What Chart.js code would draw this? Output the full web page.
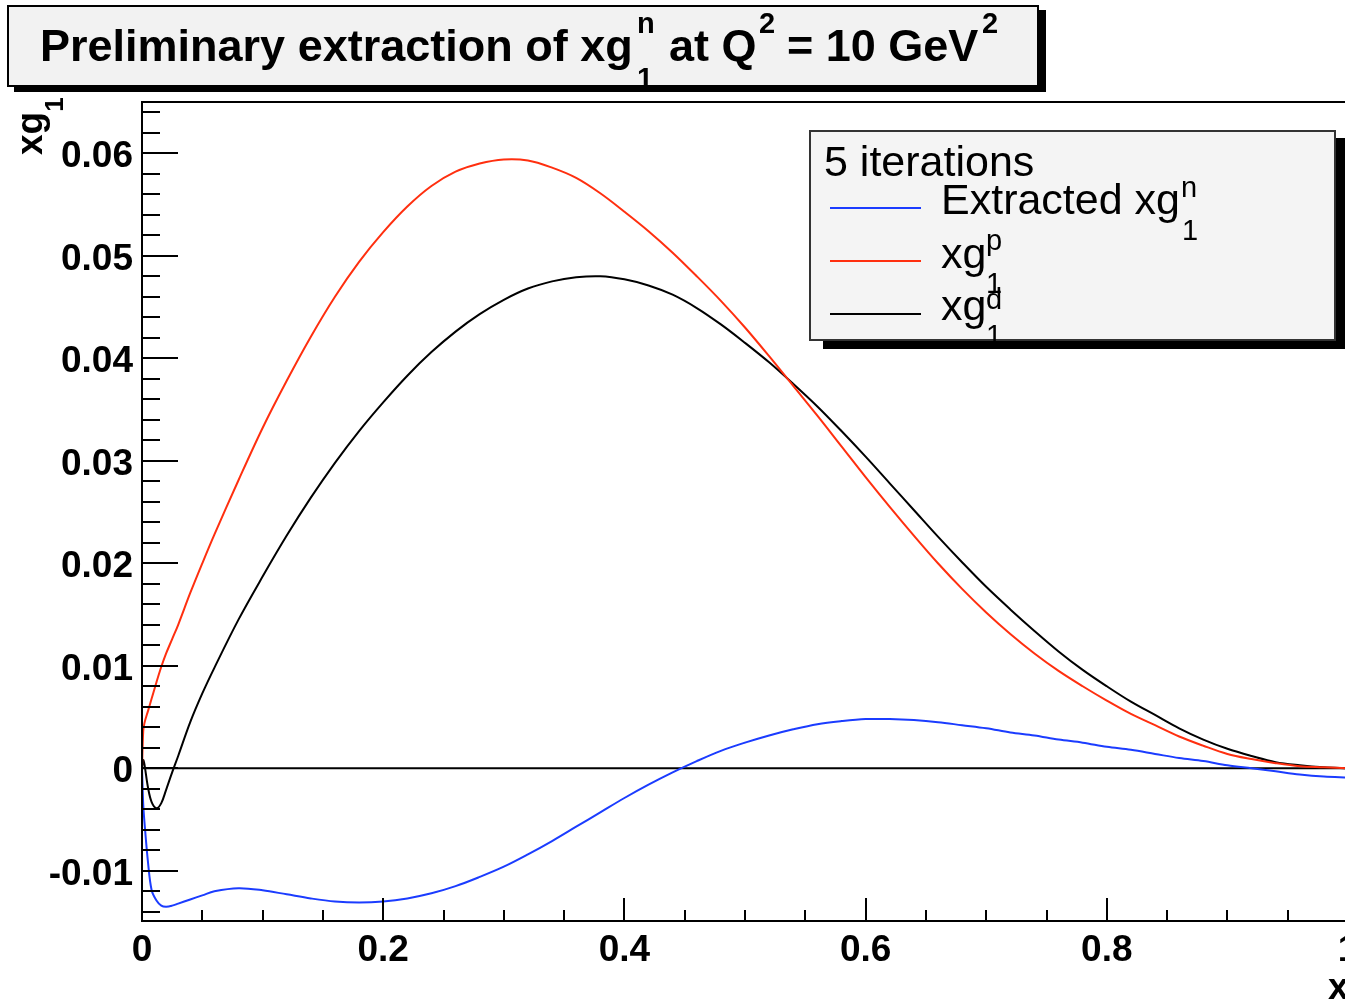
<!DOCTYPE html>
<html lang="en">
<head>
  <meta charset="UTF-8">
  <title>Preliminary extraction of xg1n at Q2 = 10 GeV2</title>
  <script src="https://cdn.jsdelivr.net/npm/chart.js"></script>
  <style>
    body {
      margin: 0;
      background: #fff;
      overflow: hidden;
      font-family: 'Liberation Sans', Arial, Helvetica, sans-serif;
    }
    #wrap {
      position: relative;
      width: 1345px;
      height: 1001px;
      overflow: hidden;
    }
    #plot {
      position: absolute;
      left: 0;
      top: 0;
    }
    .box {
      position: absolute;
      box-sizing: border-box;
      border: 2px solid #000;
    }
    .t {
      position: absolute;
      white-space: nowrap;
      line-height: 0;
      color: #000;
    }
    .key {
      position: absolute;
      height: 2px;
    }
    #ytitle {
      position: absolute;
      white-space: nowrap;
      line-height: 0;
      font-weight: bold;
      font-size: 37px;
      transform: rotate(-90deg);
      transform-origin: 0 0;
    }
    #ytitle span {
      position: relative;
      top: 21px;
      font-size: 26px;
    }
  </style>
</head>
<body>
  <div id="wrap">
    <!-- canvas is a bit wider than the window: the x = 1 edge falls just outside, as in the original -->
    <canvas id="plot" width="1367" height="1001"></canvas>

    <div class="box" style="left:7px; top:5px; width:1032px; height:82px; background:#f2f2f2; box-shadow:7px 5px 0 #000;"></div>
    <div class="box" style="left:809px; top:130px; width:527px; height:211px; background:#f4f4f4; border-color:#333; box-shadow:14px 8px 0 #000;"></div>

    <div class="key" style="left:830px; top:207px; width:91px; background:#1b3cff;"></div>
    <div class="key" style="left:830px; top:260px; width:91px; background:#ff2f0f;"></div>
    <div class="key" style="left:830px; top:313px; width:91px; background:#000;"></div>

    <div id="ytitle" style="left:30px; top:155px;">xg<span>1</span></div>
  </div>

  <script>
    // curves, on one common x grid
    const xs = [0, 0.001, 0.002, 0.005, 0.008, 0.012, 0.016, 0.02, 0.025, 0.03,
      0.04, 0.05, 0.06, 0.08,
      0.10, 0.12, 0.14, 0.16, 0.18, 0.20, 0.22, 0.24, 0.26, 0.28,
      0.30, 0.32, 0.34, 0.36, 0.38, 0.40, 0.42, 0.44, 0.46, 0.48,
      0.50, 0.52, 0.54, 0.56, 0.58, 0.60, 0.62, 0.64, 0.66, 0.68,
      0.70, 0.72, 0.74, 0.76, 0.78, 0.80, 0.82, 0.84, 0.86, 0.88,
      0.90, 0.92, 0.94, 0.96, 0.98, 1.0];

    const xg1n = [0, -0.0035, -0.0052, -0.0092, -0.0119, -0.0129, -0.0134, -0.0135, -0.0134, -0.0132,
      -0.0128, -0.0124, -0.0120, -0.0117,
      -0.0119, -0.0123, -0.0127, -0.0130, -0.0131, -0.0130, -0.0127, -0.0122, -0.0115, -0.0106,
      -0.0096, -0.0084, -0.0071, -0.0057, -0.0043, -0.0029, -0.0016, -0.0004, 0.0007, 0.0017,
      0.0025, 0.0032, 0.0038, 0.0043, 0.0046, 0.0048, 0.0048, 0.0047, 0.0045, 0.0042,
      0.0039, 0.0035, 0.0032, 0.0028, 0.0025, 0.0021, 0.0018, 0.0014, 0.0010, 0.0007,
      0.0003, 0.0000, -0.0003, -0.0006, -0.0008, -0.0009];

    const xg1p = [0, 0.0036, 0.0044, 0.0056, 0.0068, 0.0084, 0.0099, 0.0112, 0.0126, 0.0140,
      0.0171, 0.0200, 0.0228, 0.0281,
      0.0332, 0.0378, 0.0421, 0.0460, 0.0494, 0.0523, 0.0548, 0.0568, 0.0582, 0.0590,
      0.0594, 0.0593, 0.0586, 0.0576, 0.0561, 0.0543, 0.0524, 0.0503, 0.0480, 0.0456,
      0.0430, 0.0402, 0.0373, 0.0344, 0.0314, 0.0284, 0.0255, 0.0227, 0.0200, 0.0175,
      0.0152, 0.0131, 0.0112, 0.0095, 0.0080, 0.0066, 0.0053, 0.0042, 0.0031, 0.0022,
      0.0014, 0.0009, 0.0005, 0.0002, 0.0001, 0];

    const xg1d = [0, 0.0008, 0.0004, -0.0019, -0.0033, -0.0039, -0.0034, -0.0021, -0.0004, 0.0012,
      0.0045, 0.0073, 0.0098, 0.0145,
      0.0187, 0.0227, 0.0264, 0.0298, 0.0329, 0.0357, 0.0383, 0.0406, 0.0426, 0.0443,
      0.0457, 0.0468, 0.0475, 0.0479, 0.0480, 0.0477, 0.0471, 0.0462, 0.0449, 0.0433,
      0.0415, 0.0396, 0.0375, 0.0353, 0.0329, 0.0304, 0.0278, 0.0252, 0.0226, 0.0201,
      0.0177, 0.0155, 0.0134, 0.0114, 0.0096, 0.0080, 0.0065, 0.0052, 0.0039, 0.0028,
      0.0019, 0.0012, 0.0006, 0.0003, 0.0001, 0];

    const xLabels = [0, 0.2, 0.4, 0.6, 0.8, 1];
    const yLabels = [-0.01, 0, 0.01, 0.02, 0.03, 0.04, 0.05, 0.06];

    const isOn = (v, list) => list.some(l => Math.abs(v - l) < 1e-7);
    const fmt = v => Math.abs(v) < 1e-9 ? "0" : String(Math.round(v * 100) / 100);
    const pts = ys => xs.map((x, i) => ({ x: x, y: ys[i] }));

    // title and legend text, placed by baseline (line-height 0 -> baseline = top + 0.3465 em)
    const wrap = document.getElementById("wrap");
    function put(text, x, base, size, bold) {
      const d = document.createElement("div");
      d.className = "t";
      d.textContent = text;
      d.style.left = x + "px";
      d.style.top = (base - 0.3465 * size) + "px";
      d.style.fontSize = size + "px";
      d.style.fontWeight = bold ? "bold" : "normal";
      wrap.appendChild(d);
    }

    put("Preliminary extraction of xg", 40, 62, 45, true);
    put("n", 637, 33, 29, true);
    put("1", 637, 88, 29, true);
    put("at Q", 669, 62, 45, true);
    put("2", 759, 33, 29, true);
    put("= 10 GeV", 787, 62, 45, true);
    put("2", 982, 33, 29, true);

    put("5 iterations", 824, 176, 43, false);
    put("Extracted xg", 941, 214, 43, false);
    put("n", 1181, 197, 29, false);
    put("1", 1182, 240, 29, false);
    put("xg", 941, 268, 43, false);
    put("p", 986, 250, 29, false);
    put("1", 986, 293, 29, false);
    put("xg", 941, 320, 43, false);
    put("d", 986, 309, 29, false);
    put("1", 986, 345, 29, false);

    put("x", 1328, 1000, 37, true);

    // ROOT style frame: inward ticks, zero line
    const frame = {
      id: "frame",
      beforeDatasetsDraw(chart) {
        const { ctx, chartArea: a, scales: { y } } = chart;
        const y0 = y.getPixelForValue(0);
        ctx.save();
        ctx.strokeStyle = "#000";
        ctx.lineWidth = 2;
        ctx.beginPath();
        ctx.moveTo(a.left, y0);
        ctx.lineTo(a.right, y0);
        ctx.stroke();
        ctx.restore();
      },
      afterDatasetsDraw(chart) {
        const { ctx, chartArea: a, scales: { x, y } } = chart;
        ctx.save();
        ctx.strokeStyle = "#000";
        ctx.lineWidth = 2;
        ctx.strokeRect(a.left, a.top, a.right - a.left, a.bottom - a.top);
        ctx.beginPath();
        y.ticks.forEach(t => {
          const py = Math.round(y.getPixelForValue(t.value));
          const len = isOn(t.value, yLabels) ? 36 : 18;
          ctx.moveTo(a.left, py);
          ctx.lineTo(a.left + len, py);
        });
        x.ticks.forEach(t => {
          const px = Math.round(x.getPixelForValue(t.value));
          const len = isOn(t.value, xLabels) ? 23 : 11;
          ctx.moveTo(px, a.bottom);
          ctx.lineTo(px, a.bottom - len);
        });
        ctx.stroke();
        ctx.restore();
      }
    };

    const tickFont = { family: "'Liberation Sans', Arial, sans-serif", size: 37, weight: "bold" };

    new Chart(document.getElementById("plot"), {
      type: "scatter",
      data: {
        datasets: [
          { label: "Extracted xg1n", data: pts(xg1n), borderColor: "#1b3cff" },
          { label: "xg1p", data: pts(xg1p), borderColor: "#ff2f0f" },
          { label: "xg1d", data: pts(xg1d), borderColor: "#000000" }
        ]
      },
      options: {
        responsive: false,
        animation: false,
        devicePixelRatio: 1,
        showLine: true,
        layout: { padding: { top: 102, right: 19, left: 0, bottom: 0 } },
        elements: {
          point: { radius: 0, hoverRadius: 0 },
          line: { borderWidth: 2, tension: 0.35, fill: false }
        },
        plugins: {
          legend: { display: false },
          title: { display: false },
          tooltip: { enabled: false }
        },
        scales: {
          x: {
            type: "linear",
            min: 0,
            max: 1,
            grid: { display: false, drawTicks: false },
            border: { display: false },
            afterFit: s => { s.height = 80; },
            ticks: {
              stepSize: 0.05,
              includeBounds: false,
              autoSkip: false,
              maxTicksLimit: 100,
              maxRotation: 0,
              minRotation: 0,
              padding: 8,
              color: "#000",
              font: tickFont,
              callback: v => isOn(v, xLabels) ? fmt(v) : ""
            }
          },
          y: {
            type: "linear",
            min: -0.0149,
            max: 0.065,
            grid: { display: false, drawTicks: false },
            border: { display: false },
            afterFit: s => { s.width = 142; },
            ticks: {
              stepSize: 0.002,
              includeBounds: false,
              autoSkip: false,
              maxTicksLimit: 100,
              padding: 9,
              labelOffset: 4,
              color: "#000",
              font: tickFont,
              callback: v => isOn(v, yLabels) ? fmt(v) : ""
            }
          }
        }
      },
      plugins: [frame]
    });
  </script>
</body>
</html>
